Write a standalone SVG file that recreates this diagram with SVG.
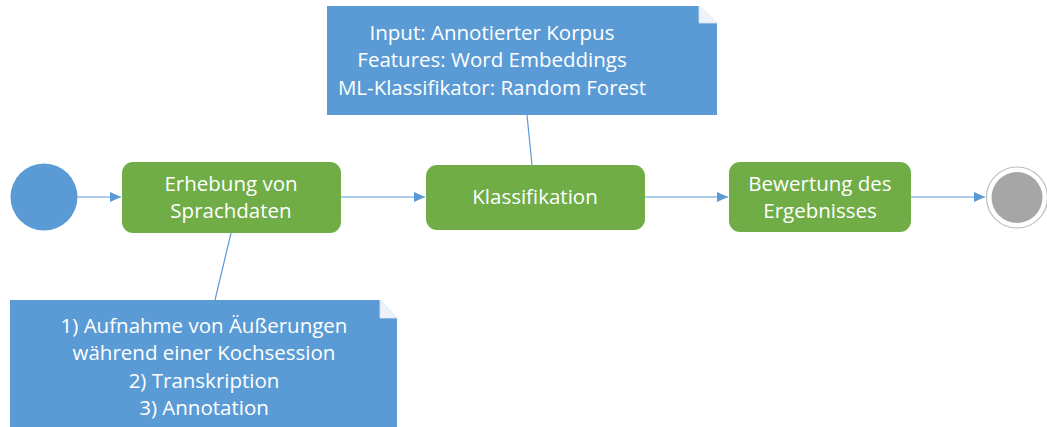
<svg xmlns="http://www.w3.org/2000/svg" width="1047" height="427" viewBox="0 0 1047 427">
<style>
.act{fill:#70ad47}
.note{fill:#5b9bd5}
.fold{fill:#eef3f9;stroke:#d6e3f1;stroke-width:0.8}
.t{font-family:"Open Sans","Liberation Sans",sans-serif;font-size:20.5px;fill:#ffffff;text-anchor:middle}
.c{stroke:#5b9bd5;stroke-width:1.2;fill:none}
</style>
<defs>
<marker id="arr" markerWidth="12" markerHeight="10" refX="11" refY="5" orient="auto" markerUnits="userSpaceOnUse">
<path d="M0,0 L11,5 L0,10 Z" fill="#5b9bd5"/>
</marker>
</defs>
<rect width="1047" height="427" fill="#ffffff"/>
<g id="connectors">
<line class="c" x1="77" y1="197" x2="121" y2="197" marker-end="url(#arr)"/>
<line class="c" x1="341" y1="197" x2="425" y2="197" marker-end="url(#arr)"/>
<line class="c" x1="645" y1="197" x2="728" y2="197" marker-end="url(#arr)"/>
<line class="c" x1="911" y1="197" x2="985" y2="197" marker-end="url(#arr)"/>
<line class="c" x1="527" y1="115" x2="532" y2="165"/>
<line class="c" x1="231" y1="233" x2="215" y2="300"/>
</g>
<g id="start">
<circle cx="44" cy="197" r="33.5" fill="#5b9bd5"/>
</g>
<g id="erhebung">
<rect class="act" x="122" y="162" width="219" height="71" rx="11"/>
<text class="t" x="231" y="191">Erhebung von</text>
<text class="t" x="231" y="218">Sprachdaten</text>
</g>
<g id="klassifikation">
<rect class="act" x="426" y="165" width="219" height="65" rx="11"/>
<text class="t" x="535" y="204">Klassifikation</text>
</g>
<g id="bewertung">
<rect class="act" x="729" y="162" width="182" height="70" rx="11"/>
<text class="t" x="820" y="191">Bewertung des</text>
<text class="t" x="820" y="218">Ergebnisses</text>
</g>
<g id="end">
<circle cx="1017" cy="197.5" r="30.5" fill="#ffffff" stroke="#bfbfbf" stroke-width="1.2"/>
<circle cx="1017" cy="197.5" r="25.5" fill="#a6a6a6"/>
</g>
<g id="note-top">
<path class="note" d="M327,6 H699 V23 H717 V115 H327 Z"/>
<path class="fold" d="M699,6 L717,23 H699 Z"/>
<text class="t" x="492" y="40">Input: Annotierter Korpus</text>
<text class="t" x="492" y="67">Features: Word Embeddings</text>
<text class="t" x="492" y="95">ML-Klassifikator: Random Forest</text>
</g>
<g id="note-bottom">
<path class="note" d="M10,300 H380 V318 H397 V427 H10 Z"/>
<path class="fold" d="M380,300 L397,318 H380 Z"/>
<text class="t" x="204" y="333">1) Aufnahme von Äußerungen</text>
<text class="t" x="204" y="360">während einer Kochsession</text>
<text class="t" x="204" y="388">2) Transkription</text>
<text class="t" x="204" y="415">3) Annotation</text>
</g>
</svg>
